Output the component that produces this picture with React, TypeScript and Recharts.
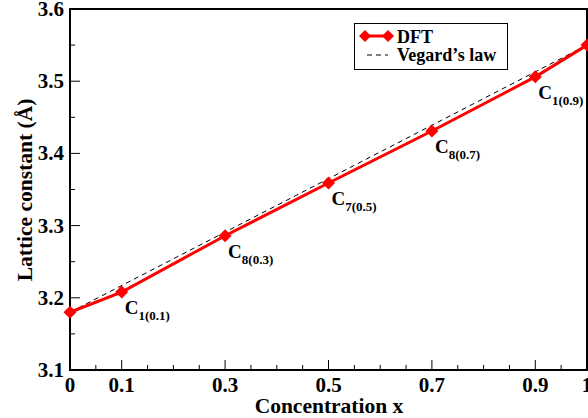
import { ComposedChart, Line, XAxis, YAxis, ReferenceArea, LabelList } from "recharts"

const concentration = [0, 0.1, 0.3, 0.5, 0.7, 0.9, 1]
const dftValues = [3.18, 3.208, 3.286, 3.359, 3.431, 3.506, 3.55]
const vegardX = [0, 1]
const vegardValues = [3.18, 3.55]
const pointSubs = ["", "1(0.1)", "8(0.3)", "7(0.5)", "8(0.7)", "1(0.9)", ""]

const xTicks = [0, 0.05, 0.1, 0.15, 0.2, 0.25, 0.3, 0.35, 0.4, 0.45, 0.5, 0.55, 0.6, 0.65, 0.7, 0.75, 0.8, 0.85, 0.9, 0.95, 1]
const xLabelled = [0, 0.1, 0.3, 0.5, 0.7, 0.9, 1]
const yTicks = [3.1, 3.15, 3.2, 3.25, 3.3, 3.35, 3.4, 3.45, 3.5, 3.55, 3.6]
const yLabelled = [3.1, 3.2, 3.3, 3.4, 3.5, 3.6]

const FONT = "'Liberation Serif', 'Times New Roman', serif"

const dftData = concentration.map((x, i) => ({ x, dft: dftValues[i], sub: pointSubs[i] }))
const vegardData = vegardX.map((x, i) => ({ x, vegard: vegardValues[i] }))

const Diamond = (props: any) => {
  const { cx, cy } = props
  if (cx == null || cy == null) return null
  const r = 6.5
  return <polygon points={`${cx},${cy - r} ${cx + r},${cy} ${cx},${cy + r} ${cx - r},${cy}`} fill="#ff0000" />
}

const XTick = (props: any) => {
  const { x, y, payload } = props
  const v = payload.value
  const major = xLabelled.some((t) => Math.abs(t - v) < 1e-6)
  const label = v === 0 ? "0" : v === 1 ? "1" : String(v)
  return (
    <g>
      <line x1={x} x2={x} y1={y} y2={y - (major ? 10 : 5)} stroke="#000" strokeWidth={1} />
      {major && (
        <text x={x} y={y + 22} textAnchor="middle" fontFamily={FONT} fontWeight="bold" fontSize={21} fill="#000">
          {label}
        </text>
      )}
    </g>
  )
}

const YTick = (props: any) => {
  const { x, y, payload } = props
  const v = payload.value
  const major = yLabelled.some((t) => Math.abs(t - v) < 1e-6)
  return (
    <g>
      <line x1={x} x2={x + (major ? 10 : 5)} y1={y} y2={y} stroke="#000" strokeWidth={1} />
      {major && (
        <text x={x - 6} y={y + 7} textAnchor="end" fontFamily={FONT} fontWeight="bold" fontSize={21} fill="#000">
          {v.toFixed(1)}
        </text>
      )}
    </g>
  )
}

const PointLabel = (props: any) => {
  const { x, y, index } = props
  const sub = pointSubs[index]
  if (!sub) return null
  return (
    <text x={x + 3} y={y + 22} fontFamily={FONT} fontWeight="bold" fill="#000">
      <tspan fontSize={19}>C</tspan>
      <tspan fontSize={13} dy={6}>{sub}</tspan>
    </text>
  )
}

const YTitle = () => (
  <text x={32} y={190} transform="rotate(-90, 32, 190)" textAnchor="middle" fontFamily={FONT} fontWeight="bold" fontSize={21.5} fill="#000">
    Lattice constant (Å)
  </text>
)

const XTitle = () => (
  <text x={329} y={413} textAnchor="middle" fontFamily={FONT} fontWeight="bold" fontSize={21.5} fill="#000">
    Concentration x
  </text>
)

const LegendBox = () => (
  <svg width={154} height={47} style={{ display: "block" }}>
    <rect x={0.5} y={0.5} width={153} height={46} fill="#fff" stroke="#000" strokeWidth={1} />
    <line x1={11} x2={34} y1={13} y2={13} stroke="#ff0000" strokeWidth={3} />
    <polygon points="11,7 17,13 11,19 5,13" fill="#ff0000" />
    <polygon points="34,7 40,13 34,19 28,13" fill="#ff0000" />
    <text x={43} y={20} fontFamily={FONT} fontWeight="bold" fontSize={18} fill="#000">DFT</text>
    <line x1={13} x2={34} y1={32} y2={32} stroke="#000" strokeWidth={1} strokeDasharray="5 4" />
    <text x={43} y={38} fontFamily={FONT} fontWeight="bold" fontSize={18} fill="#000">Vegard’s law</text>
  </svg>
)

export default function App() {
  return (
    <div style={{ position: "absolute", left: 0, top: 0, width: 588, height: 418, background: "#fff" }}>
      <ComposedChart width={588} height={418} margin={{ top: 9, right: 1, bottom: 0, left: 0 }}>
        <XAxis
          dataKey="x"
          type="number"
          domain={[0, 1]}
          ticks={xTicks}
          interval={0}
          tick={<XTick />}
          tickSize={0}
          tickMargin={0}
          tickLine={false}
          axisLine={{ stroke: "#000", strokeWidth: 2 }}
          height={48}
          allowDuplicatedCategory={false}
          label={{ content: <XTitle /> }}
        />
        <YAxis
          type="number"
          domain={[3.1, 3.6]}
          ticks={yTicks}
          interval={0}
          tick={<YTick />}
          tickSize={0}
          tickMargin={0}
          tickLine={false}
          axisLine={{ stroke: "#000", strokeWidth: 2 }}
          width={70}
          label={{ content: <YTitle /> }}
        />
        <ReferenceArea x1={0} x2={1} y1={3.1} y2={3.6} fill="none" stroke="#000" strokeWidth={2} ifOverflow="visible" />
        <Line
          data={vegardData}
          dataKey="vegard"
          stroke="#000"
          strokeWidth={1}
          strokeDasharray="5 4"
          dot={false}
          activeDot={false}
          isAnimationActive={false}
        />
        <Line
          data={dftData}
          dataKey="dft"
          stroke="#ff0000"
          strokeWidth={3}
          dot={<Diamond />}
          activeDot={false}
          isAnimationActive={false}
        >
          <LabelList dataKey="sub" content={<PointLabel />} />
        </Line>
      </ComposedChart>
      <div style={{ position: "absolute", left: 354, top: 23 }}>
        <LegendBox />
      </div>
    </div>
  )
}
